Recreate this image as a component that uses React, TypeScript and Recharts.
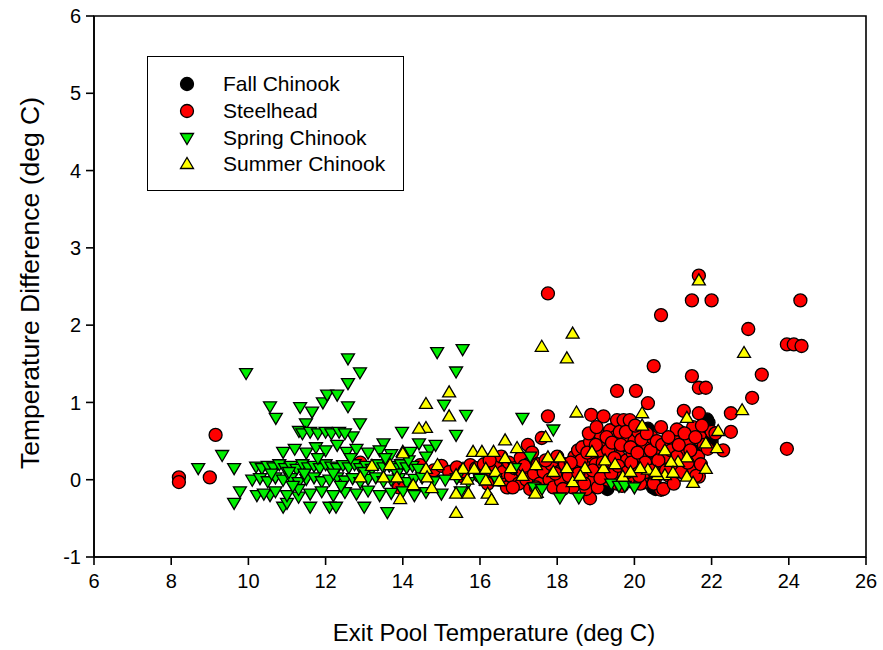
import { ScatterChart, Scatter, XAxis, YAxis, ReferenceArea } from "recharts";

type Pt = [number, number];

// exit pool temperature vs. temperature difference, one list per run
const fallChinook: Pt[] = [
    [19.3, -0.12], [20.35, 0.66], [20.48, -0.1], [20.55, -0.12], [21.88, 0.78], [21.92, 0.74],
    [21.25, 0.5], [18.85, -0.08], [19.9, -0.02], [21.55, 0.42], [20.9, 0.3], [22.0, 0.5],
];

const steelhead: Pt[] = [
    [8.2, 0.03], [8.2, -0.03], [9.0, 0.03], [9.15, 0.58], [17.76, 2.41], [17.76, 0.82],
    [21.67, 2.64], [21.49, 2.32], [22.0, 2.32], [24.3, 2.32], [20.69, 2.13], [22.95, 1.95],
    [23.95, 1.75], [24.13, 1.75], [24.33, 1.73], [23.3, 1.36], [21.49, 1.34], [21.67, 1.19],
    [21.85, 1.19], [20.5, 1.47], [23.05, 1.06], [23.95, 0.4], [19.55, 1.15], [20.04, 1.15],
    [20.35, 0.99], [18.88, 0.84], [19.2, 0.82], [22.5, 0.86], [22.5, 0.62], [22.3, 0.38],
    [20.69, 0.68], [21.18, 0.62], [21.52, 0.68], [21.28, 0.89], [21.67, 0.86], [21.0, 0.53],
    [21.67, 0.52], [21.52, 0.13], [21.67, 0.04], [20.69, -0.13], [20.22, -0.04], [20.35, 0.28],
    [22.0, 0.62], [20.53, 0.0], [18.85, -0.24], [12.9, 0.22], [13.9, -0.1],
    [14.45, 0.19], [14.8, 0.12], [15.0, 0.18], [15.2, 0.1], [15.4, 0.16], [15.6, 0.12],
    [15.75, 0.19], [15.9, 0.15], [16.0, 0.05], [16.1, 0.2], [16.2, -0.05], [16.3, 0.12],
    [16.4, 0.18], [16.5, 0.0], [16.55, 0.3], [16.6, 0.1], [16.7, -0.1], [16.75, 0.22],
    [16.8, 0.05], [16.9, 0.15], [17.0, -0.05], [17.05, 0.28], [17.1, 0.1], [17.2, 0.0],
    [17.24, 0.45], [17.25, 0.2], [17.3, -0.12], [17.35, 0.35], [17.4, 0.08], [17.5, 0.2],
    [17.55, -0.05], [17.6, 0.54], [17.65, 0.1], [17.8, 0.0], [17.85, 0.2], [17.9, -0.1],
    [18.0, 0.3], [18.05, 0.1], [18.1, -0.02], [18.2, 0.2], [18.3, 0.05], [18.4, -0.1],
    [18.45, 0.3], [18.54, 0.38], [18.5, 0.15], [18.6, 0.0], [18.65, 0.42], [18.7, 0.2],
    [18.75, -0.12], [18.8, 0.1], [18.85, 0.49], [18.9, 0.3], [18.95, 0.0], [19.0, 0.2],
    [19.05, -0.1], [19.1, 0.6], [19.15, 0.35], [19.2, 0.1], [19.25, 0.45], [19.3, 0.0],
    [19.35, 0.25], [19.37, 0.64], [19.45, 0.15], [19.5, 0.55], [19.5, 0.4], [19.55, 0.77],
    [19.55, -0.05], [19.6, 0.3], [19.62, 0.62], [19.7, 0.1], [19.72, 0.77], [19.75, 0.45],
    [19.8, 0.25], [19.85, 0.55], [19.88, 0.77], [19.9, 0.0], [19.95, 0.35], [19.98, 0.6],
    [20.0, 0.5], [20.05, 0.15], [20.1, 0.62], [20.15, -0.05], [20.2, 0.3], [20.25, 0.45],
    [20.3, 0.1], [20.4, 0.2], [20.45, 0.55], [20.5, -0.05], [20.6, 0.35], [20.7, 0.15],
    [20.75, -0.12], [20.8, 0.3], [20.9, 0.05], [21.05, 0.2], [21.1, 0.65], [21.2, 0.35],
    [21.3, 0.1], [21.4, 0.5], [21.5, 0.15], [21.6, 0.05], [21.65, 0.3], [21.7, 0.55],
    [21.75, 0.7], [21.8, 0.45], [21.9, 0.4], [22.1, 0.6],
    [18.55, 0.08], [18.62, 0.25], [18.7, -0.05], [18.78, 0.35], [18.82, 0.6], [18.92, 0.12],
    [19.0, 0.45], [19.02, 0.68], [19.12, 0.02], [19.18, 0.22], [19.28, 0.55], [19.32, 0.38],
    [19.4, 0.08], [19.42, 0.48], [19.48, 0.28], [19.58, 0.18], [19.65, 0.45], [19.68, -0.08],
    [19.78, 0.62], [19.82, 0.1], [19.9, 0.42], [19.92, 0.22], [20.02, 0.7], [20.08, 0.35],
    [20.12, 0.05], [20.18, 0.52], [20.28, 0.22], [20.32, 0.6], [20.42, 0.38], [20.48, 0.12],
    [20.58, 0.5], [20.62, 0.25], [20.72, 0.45], [20.82, 0.12], [20.88, 0.55], [20.95, 0.38],
    [21.02, -0.05], [21.1, 0.3], [21.15, 0.45], [21.22, 0.1], [21.3, 0.6], [21.38, 0.22],
    [21.45, 0.38], [21.58, 0.55], [21.72, 0.2], [16.85, -0.1], [17.15, 0.18], [17.45, -0.1],
    [17.7, 0.25], [17.95, 0.08], [18.15, -0.12], [18.35, 0.22], [15.5, 0.05], [16.25, 0.25],
];

const springChinook: Pt[] = [
    [8.7, 0.15], [9.32, 0.32], [9.63, 0.15], [9.78, -0.15], [9.63, -0.3], [9.94, 1.38],
    [10.1, 0.0], [10.22, -0.2], [10.56, -0.2], [10.56, 0.95], [10.71, 0.8], [10.9, -0.35],
    [11.0, -0.3], [11.34, 0.94], [11.65, 0.88], [11.49, 0.73], [11.31, 0.63], [11.6, -0.35],
    [11.3, -0.22], [11.93, 1.0], [12.04, 1.1], [12.3, 1.1], [12.58, 1.57], [12.89, 1.39],
    [12.58, 1.25], [12.58, 0.95], [12.89, 0.73], [12.7, 0.56], [12.1, -0.35], [12.27, -0.35],
    [13.0, -0.35], [13.6, -0.42], [13.98, 0.62], [13.5, 0.47], [14.89, 1.65], [15.55, 1.69],
    [15.38, 1.4], [15.07, 0.97], [15.64, 0.84], [15.38, 0.58], [14.42, 0.47], [14.7, 0.39],
    [14.85, 0.45], [17.1, 0.8], [17.9, 0.65],
    [10.2, 0.17], [10.35, 0.15], [10.5, 0.18], [10.65, 0.16], [10.8, 0.2], [10.95, 0.15],
    [11.1, 0.18], [11.25, 0.14], [11.4, 0.2], [11.55, 0.16], [11.7, 0.18], [11.85, 0.15],
    [12.0, 0.2], [12.15, 0.17], [12.3, 0.15], [12.45, 0.19], [12.6, 0.16], [12.75, 0.2],
    [12.9, 0.15], [13.05, 0.18], [13.2, 0.14], [13.35, 0.2], [13.5, 0.16], [13.65, 0.18],
    [13.8, 0.15], [13.95, 0.2], [14.1, 0.16], [14.25, 0.18], [14.4, 0.14],
    [10.3, 0.02], [10.5, -0.02], [10.7, 0.03], [10.9, 0.0], [11.1, 0.02], [11.3, -0.03],
    [11.5, 0.01], [11.7, 0.03], [11.9, -0.02], [12.1, 0.0], [12.3, 0.03], [12.5, -0.01],
    [12.7, 0.02], [12.9, -0.03], [13.1, 0.01], [13.3, 0.03], [13.5, -0.02], [13.7, 0.0],
    [13.9, 0.02], [14.1, -0.03], [14.3, 0.01], [14.5, 0.03], [14.8, -0.02], [15.1, 0.0],
    [15.4, 0.02], [15.7, -0.03], [16.0, 0.01], [16.4, 0.02],
    [10.4, -0.18], [10.7, -0.15], [11.0, -0.2], [11.3, -0.12], [11.6, -0.18], [11.9, -0.15],
    [12.2, -0.2], [12.5, -0.16], [12.8, -0.18], [13.1, -0.14], [13.4, -0.2], [13.7, -0.17],
    [14.0, -0.15], [14.3, -0.2], [14.6, -0.16], [15.0, -0.18], [15.5, -0.15],
    [10.9, 0.36], [11.2, 0.4], [11.5, 0.35], [11.75, 0.42], [12.0, 0.38], [12.3, 0.45],
    [12.55, 0.36], [12.8, 0.4], [13.1, 0.35], [13.4, 0.38], [13.7, 0.33], [14.2, 0.36],
    [14.6, 0.3], [11.4, 0.6], [11.6, 0.62], [11.8, 0.6], [12.0, 0.62], [12.15, 0.6],
    [12.35, 0.62], [12.5, 0.6], [16.9, 0.15], [17.3, 0.3], [17.4, -0.1], [17.6, -0.12],
    [18.07, -0.23], [18.56, -0.23], [19.4, -0.05], [19.6, -0.08], [19.75, -0.08], [20.0, -0.1],
    [10.6, 0.08], [11.05, 0.1], [11.45, 0.08], [11.8, 0.28], [12.2, 0.08], [12.65, 0.28],
    [13.0, 0.1], [13.55, 0.28], [13.85, 0.08], [14.15, 0.25], [11.15, -0.08], [12.4, -0.08],
];

const summerChinook: Pt[] = [
    [18.4, 1.89], [17.6, 1.72], [18.25, 1.57], [15.2, 1.13], [14.6, 0.98], [15.2, 0.82],
    [14.6, 0.67], [14.42, 0.66], [14.0, 0.36], [15.38, -0.43], [18.5, 0.87], [17.7, 0.55],
    [16.65, 0.51], [20.2, 0.86], [20.2, 0.7], [21.67, 2.58], [22.84, 1.64], [22.79, 0.9],
    [21.36, 0.8], [22.17, 0.63], [21.85, 0.47], [22.14, 0.41], [21.36, 0.29], [21.13, 0.23],
    [20.95, 0.23], [20.79, 0.38], [21.85, 0.14], [21.36, 0.04], [21.52, -0.04], [20.79, 0.06],
    [21.0, 0.09], [20.35, 0.13], [20.6, 0.06], [16.96, 0.41], [17.45, 0.19], [17.76, 0.29],
    [18.07, 0.29], [18.25, 0.15], [18.9, 0.36], [18.72, 0.15], [19.2, 0.15], [18.4, -0.03],
    [17.47, -0.17], [19.7, 0.04], [20.15, 0.15], [20.55, 0.1], [19.24, 0.25], [15.82, 0.36],
    [16.05, 0.36], [16.35, 0.36], [16.65, 0.28], [15.56, 0.14], [15.85, 0.14], [16.15, 0.14],
    [16.4, 0.1], [15.38, 0.06], [15.67, 0.0], [16.15, -0.01], [16.5, -0.02], [14.6, 0.14],
    [14.75, -0.11], [15.38, -0.18], [15.7, -0.18], [16.2, -0.18], [16.3, -0.26], [17.43, -0.18],
    [14.9, 0.19], [13.2, 0.18], [12.9, 0.03], [13.5, 0.03], [13.67, 0.19], [13.85, 0.03],
    [14.0, 0.34], [14.27, -0.07], [14.63, 0.03], [13.93, -0.25], [16.8, 0.15], [17.1, 0.05],
    [17.9, 0.1], [18.6, 0.05], [19.5, 0.2], [19.9, 0.1],
];

const xTicks = [6, 8, 10, 12, 14, 16, 18, 20, 22, 24, 26];
const yTicks = [-1, 0, 1, 2, 3, 4, 5, 6];

const seriesNames = ["Fall Chinook", "Steelhead", "Spring Chinook", "Summer Chinook"];

const toRows = (pts: Pt[]) => pts.map(([x, y]) => ({ x, y }));

const FONT = "'Liberation Sans', Arial, sans-serif";
const EDGE = "#000";

function Marker({ kind, cx, cy }: { kind: number; cx: number; cy: number }) {
    if (kind === 0 || kind === 1) {
        return <circle cx={cx} cy={cy} r={6.5} fill={kind === 0 ? "#000" : "#ff0000"} stroke={EDGE} strokeWidth={1.3} />;
    }
    if (kind === 2) {
        return <path d={`M${cx - 6.5},${cy - 4.5}L${cx + 6.5},${cy - 4.5}L${cx},${cy + 6.5}Z`} fill="#00ee00" stroke={EDGE} strokeWidth={1.3} />;
    }
    return <path d={`M${cx - 6.5},${cy + 4.5}L${cx + 6.5},${cy + 4.5}L${cx},${cy - 6.5}Z`} fill="#ffff00" stroke={EDGE} strokeWidth={1.3} />;
}

const shapeFor = (kind: number) => (props: any) => <Marker kind={kind} cx={props.cx} cy={props.cy} />;

// key box drawn over the upper-left part of the plot
function LegendBox() {
    return (
        <div style={{ position: "absolute", left: 147, top: 56, width: 257, height: 135, border: "1.5px solid #000", boxSizing: "border-box", background: "#fff", paddingTop: 14 }}>
            {seriesNames.map((name, i) => (
                <div key={name} style={{ display: "flex", alignItems: "center", height: 26.7 }}>
                    <svg width={30} height={20} style={{ marginLeft: 24 }}>
                        <Marker kind={i} cx={15} cy={10} />
                    </svg>
                    <span style={{ marginLeft: 21, fontFamily: FONT, fontSize: 21, color: "#000", lineHeight: "20px" }}>{name}</span>
                </div>
            ))}
        </div>
    );
}

export default function TemperatureScatter() {
    return (
        <div style={{ position: "absolute", left: 0, top: 0, width: 883, height: 650, background: "#fff", fontFamily: FONT }}>
            <ScatterChart width={883} height={650} margin={{ top: 16, right: 17, bottom: 17, left: 34 }}>
                <XAxis
                    type="number"
                    dataKey="x"
                    domain={[6, 26]}
                    ticks={xTicks}
                    allowDataOverflow
                    height={76}
                    tickSize={8}
                    tickMargin={9}
                    stroke={EDGE}
                    strokeWidth={1.6}
                    tick={{ fill: "#000", fontSize: 20, fontFamily: FONT }}
                />
                <YAxis
                    type="number"
                    dataKey="y"
                    domain={[-1, 6]}
                    ticks={yTicks}
                    allowDataOverflow
                    width={60}
                    tickSize={8}
                    tickMargin={5}
                    stroke={EDGE}
                    strokeWidth={1.6}
                    tick={{ fill: "#000", fontSize: 20, fontFamily: FONT }}
                />
                <ReferenceArea x1={6} x2={26} y1={-1} y2={6} fill="none" stroke={EDGE} strokeWidth={1.6} />
                <Scatter name="Fall Chinook" data={toRows(fallChinook)} shape={shapeFor(0)} isAnimationActive={false} />
                <Scatter name="Steelhead" data={toRows(steelhead)} shape={shapeFor(1)} isAnimationActive={false} />
                <Scatter name="Spring Chinook" data={toRows(springChinook)} shape={shapeFor(2)} isAnimationActive={false} />
                <Scatter name="Summer Chinook" data={toRows(summerChinook)} shape={shapeFor(3)} isAnimationActive={false} />
            </ScatterChart>
            <LegendBox />
            <div style={{ position: "absolute", left: 494, top: 633, transform: "translate(-50%, -50%)", fontSize: 24, whiteSpace: "nowrap", color: "#000" }}>
                Exit Pool Temperature (deg C)
            </div>
            <div style={{ position: "absolute", left: 30, top: 283, transform: "translate(-50%, -50%) rotate(-90deg)", fontSize: 26.5, whiteSpace: "nowrap", color: "#000" }}>
                Temperature Difference (deg C)
            </div>
        </div>
    );
}
